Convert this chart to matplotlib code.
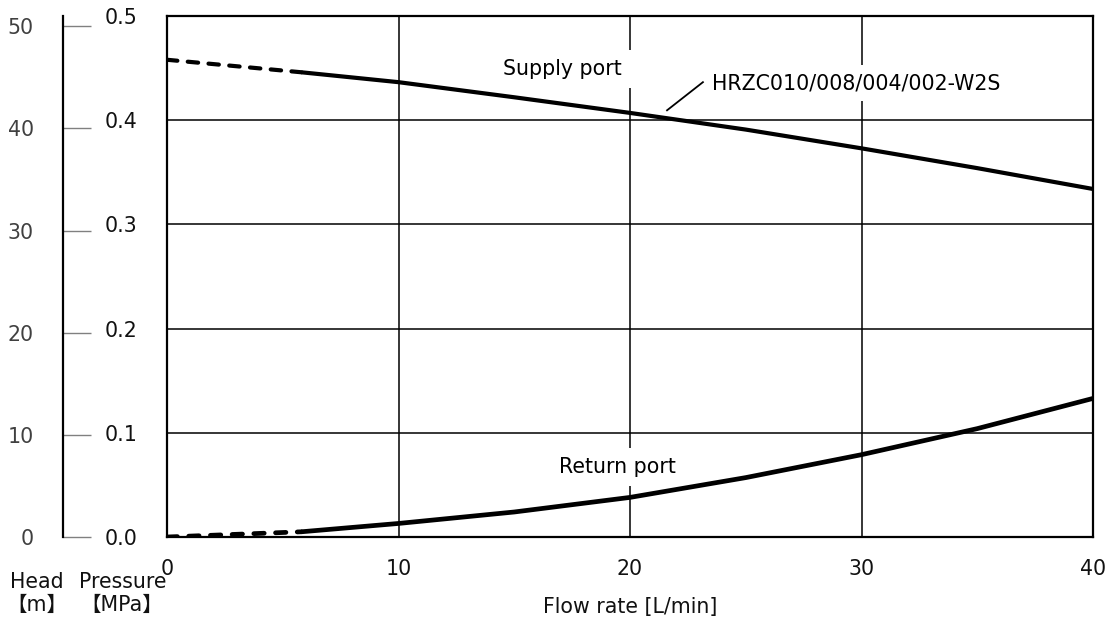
import numpy as np
import matplotlib
matplotlib.use('Agg')
import matplotlib.pyplot as plt

plt.rcParams['font.family'] = ['DejaVu Sans', 'Noto Sans CJK JP']

# values
flow = [0, 5.8, 10, 15, 20, 25, 30, 35, 40]
supply = [0.458, 0.446, 0.4365, 0.422, 0.407, 0.391, 0.373, 0.354, 0.334]
ret = [0.0, 0.005, 0.013, 0.024, 0.038, 0.057, 0.079, 0.104, 0.133]
n_dash = 2  # first segment is dashed

x_ticks = [0, 10, 20, 30, 40]
p_ticks = [0.0, 0.1, 0.2, 0.3, 0.4, 0.5]
head_ticks = [0, 10, 20, 30, 40, 50]
head_max = 51  # 0.5 MPa ~ 51 m of water

W, H = 1116, 623
L, R, T, B = 167, 1093, 16, 537
fs = 14.8

fig = plt.figure(figsize=(W / 100, H / 100), dpi=100)
ax = fig.add_axes([L / W, 1 - B / H, (R - L) / W, (B - T) / H])

ax.plot(flow[:n_dash], supply[:n_dash], color='black', lw=3, ls=(0, (2.5, 2.5)),
        dash_capstyle='round', zorder=4)
ax.plot(flow[n_dash - 1:], supply[n_dash - 1:], color='black', lw=3,
        solid_capstyle='butt', zorder=4)
ax.plot(flow[:n_dash], ret[:n_dash], color='black', lw=3.4, ls=(0, (2.2, 2.4)),
        dash_capstyle='round', zorder=4)
ax.plot(flow[n_dash - 1:], ret[n_dash - 1:], color='black', lw=3.4,
        solid_capstyle='butt', zorder=4)

ax.set_xlim(0, 40)
ax.set_ylim(0, 0.5)
ax.set_xticks(x_ticks)
ax.set_yticks(p_ticks)
ax.set_yticklabels([f'{v:.1f}' for v in p_ticks])
ax.grid(True, color='black', lw=1.1, zorder=1)
ax.set_axisbelow(True)
ax.tick_params(axis='y', length=0, pad=21, labelsize=fs, labelcolor='#111111')
ax.tick_params(axis='x', length=0, pad=15.5, labelsize=fs, labelcolor='#111111')
for s in ax.spines.values():
    s.set_linewidth(1.6)
    s.set_zorder(5)

box = dict(boxstyle='square,pad=0.45', fc='white', ec='none')
ax.text(17.1, 0.449, 'Supply port', fontsize=fs, ha='center', va='center',
        bbox=box, zorder=3)
ax.text(19.44, 0.067, 'Return port', fontsize=fs, ha='center', va='center',
        bbox=box, zorder=3)
ax.text(23.55, 0.4355, 'HRZC010/008/004/002-W2S', fontsize=fs, ha='left',
        va='center', bbox=dict(boxstyle='square,pad=0.4', fc='white', ec='none'),
        zorder=3)
ax.plot([21.6, 23.15], [0.4095, 0.4365], color='black', lw=1.3, zorder=4)

# head axis
ax2 = fig.add_axes([63 / W, 1 - B / H, 0.0005, (B - T) / H])
ax2.set_facecolor('none')
for k in ['top', 'right', 'bottom']:
    ax2.spines[k].set_visible(False)
ax2.spines['left'].set_linewidth(1.6)
ax2.set_ylim(0, head_max)
ax2.set_yticks(head_ticks)
ax2.set_xticks([])
ax2.tick_params(axis='y', direction='in', length=20, width=1, color='#808080',
                pad=21, labelsize=fs, labelcolor='#404040')

fig.text(630 / W, 1 - 607 / H, 'Flow rate [L/min]', fontsize=fs, ha='center',
         va='center', color='#111111')
fig.text(37 / W, 1 - 582 / H, 'Head', fontsize=fs, ha='center', va='center',
         color='#111111')
fig.text(37 / W, 1 - 605 / H, '【m】', fontsize=fs, ha='center', va='center',
         color='#111111')
fig.text(123 / W, 1 - 582 / H, 'Pressure', fontsize=fs, ha='center',
         va='center', color='#111111')
fig.text(122 / W, 1 - 605 / H, '【MPa】', fontsize=fs, ha='center',
         va='center', color='#111111')

fig.savefig('out.png', dpi=100, facecolor='white')
